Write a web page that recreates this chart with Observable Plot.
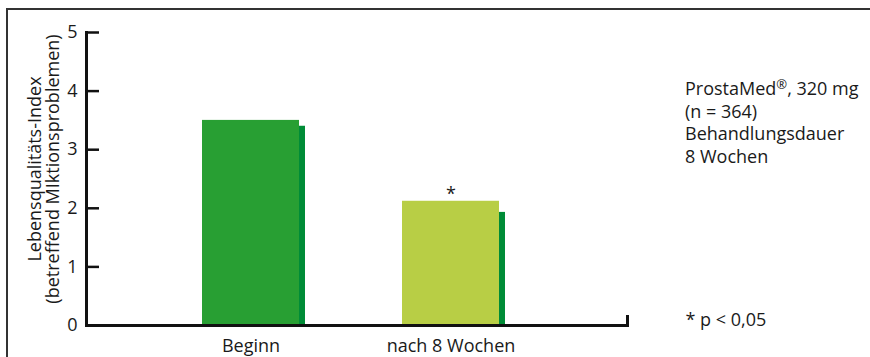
<!DOCTYPE html>
<html>
<head>
<meta charset="utf-8">
<script src="https://cdn.jsdelivr.net/npm/d3@7"></script>
<script src="https://cdn.jsdelivr.net/npm/@observablehq/plot@0.6"></script>
<style>
  html, body { margin: 0; padding: 0; background: #fff; }
  #wrap { position: relative; width: 870px; height: 357px; overflow: hidden; font-family: "Open Sans", sans-serif; color: #1a1a1a; }
  #box { position: absolute; left: 6px; top: 8px; width: 880px; height: 400px; border-top: 2px solid #333; border-left: 2px solid #333; pointer-events: none; }
  #chart { position: absolute; left: 0; top: 0; }
  #note { position: absolute; left: 685px; top: 77px; font-size: 18px; line-height: 22.5px; white-space: nowrap; }
  #note sup { font-size: 13px; line-height: 0; position: relative; top: -0.5em; vertical-align: baseline; }
</style>
</head>
<body>
<div id="wrap">
  <div id="box"></div>
  <div id="chart"></div>
  <div id="note"></div>
</div>
<script>
const categories = ["Beginn", "nach 8 Wochen"];
const values = [3.5, 2.12];
const shadowValues = [3.4, 1.93];
const barColors = ["#289F33", "#B8CE45"];
const shadowColor = "#008C37";
const significance = ["", "*"];
const yTicks = [0, 1, 2, 3, 4, 5];
const yLabel = "Lebensqualitäts-Index\n(betreffend MIktionsproblemen)";
const noteLines = ["ProstaMed<sup>®</sup>, 320 mg", "(n = 364)", "Behandlungsdauer", "8 Wochen"];
const footnote = "* p < 0,05";

const data = categories.map((c, i) => ({
  category: c, value: values[i], shadow: shadowValues[i], color: barColors[i], sig: significance[i]
}));

const chart = Plot.plot({
  width: 870,
  height: 357,
  marginLeft: 86,
  marginRight: 243,
  marginTop: 32,
  marginBottom: 32,
  style: { fontFamily: "'Open Sans', sans-serif", fontSize: "18px", color: "#1a1a1a", background: "transparent" },
  x: { type: "band", domain: categories, range: [202, 499], paddingInner: 0.515, paddingOuter: 0 },
  y: { domain: [0, 5] },
  marks: [
    Plot.barY(data, { x: "category", y: "shadow", fill: shadowColor, insetLeft: 89, dx: 6 }),
    Plot.barY(data, { x: "category", y: "value", fill: "color" }),
    Plot.ruleY([0], { strokeWidth: 3, stroke: "#111" }),
    Plot.frame({ anchor: "left", strokeWidth: 3, stroke: "#111" }),
    Plot.frame({ anchor: "right", strokeWidth: 3, stroke: "#111", insetTop: 284 }),
    Plot.ruleY(yTicks, { strokeWidth: 2.5, stroke: "#111", insetRight: 528 }),
    Plot.axisY({ ticks: yTicks, tickFormat: d => String(d), tickSize: 0, tickPadding: 9, label: null, fontSize: 18 }),
    Plot.axisX({ tickSize: 0, tickPadding: 14, label: null, fontSize: 18 }),
    Plot.text(data, { x: "category", y: "value", text: "sig", lineAnchor: "bottom", dy: -1, fontSize: 18 }),
    Plot.text([yLabel], { frameAnchor: "left", textAnchor: "middle", lineAnchor: "middle", rotate: -90, dx: -42, dy: -10, lineHeight: 1, fontSize: 18 }),
    Plot.text([footnote], { frameAnchor: "bottom-right", textAnchor: "start", lineAnchor: "bottom", dx: 58, fontSize: 18 })
  ]
});
document.getElementById("chart").appendChild(chart);
document.getElementById("note").innerHTML = noteLines.join("<br>");
</script>
</body>
</html>
